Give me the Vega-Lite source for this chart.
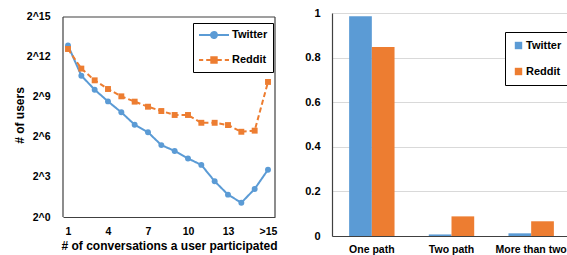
{
  "$schema": "https://vega.github.io/schema/vega-lite/v6.json",
  "padding": {"left": 13, "top": 7, "right": 0, "bottom": 0},
  "spacing": 26,
  "config": {
    "font": "Liberation Sans",
    "view": {"stroke": null},
    "axis": {
      "labelFont": "Liberation Sans", "labelFontWeight": "bold", "labelColor": "#000",
      "titleFont": "Liberation Sans", "titleFontWeight": "bold", "titleColor": "#000", "titleFontSize": 12,
      "gridColor": "#d9d9d9", "gridWidth": 1, "domainColor": "#404040", "domainWidth": 1.2, "ticks": false
    },
    "legend": {"labelFont": "Liberation Sans", "labelFontWeight": "bold", "labelColor": "#000"}
  },
  "resolve": {"scale": {"color": "independent"}, "legend": {"color": "independent"}},
  "hconcat": [
    {
      "width": 212,
      "height": 204,
      "data": {"values": [
        {"n": 1, "platform": "Twitter", "users": 7480},
        {"n": 2, "platform": "Twitter", "users": 1552},
        {"n": 3, "platform": "Twitter", "users": 749},
        {"n": 4, "platform": "Twitter", "users": 407},
        {"n": 5, "platform": "Twitter", "users": 231},
        {"n": 6, "platform": "Twitter", "users": 121},
        {"n": 7, "platform": "Twitter", "users": 82},
        {"n": 8, "platform": "Twitter", "users": 42},
        {"n": 9, "platform": "Twitter", "users": 31},
        {"n": 10, "platform": "Twitter", "users": 21},
        {"n": 11, "platform": "Twitter", "users": 15},
        {"n": 12, "platform": "Twitter", "users": 6.4},
        {"n": 13, "platform": "Twitter", "users": 3.2},
        {"n": 14, "platform": "Twitter", "users": 2.1},
        {"n": 15, "platform": "Twitter", "users": 4.3},
        {"n": 16, "platform": "Twitter", "users": 11.7},
        {"n": 1, "platform": "Reddit", "users": 6208},
        {"n": 2, "platform": "Reddit", "users": 2241},
        {"n": 3, "platform": "Reddit", "users": 1218},
        {"n": 4, "platform": "Reddit", "users": 776},
        {"n": 5, "platform": "Reddit", "users": 530},
        {"n": 6, "platform": "Reddit", "users": 402},
        {"n": 7, "platform": "Reddit", "users": 309},
        {"n": 8, "platform": "Reddit", "users": 247},
        {"n": 9, "platform": "Reddit", "users": 201},
        {"n": 10, "platform": "Reddit", "users": 201},
        {"n": 11, "platform": "Reddit", "users": 134},
        {"n": 12, "platform": "Reddit", "users": 134},
        {"n": 13, "platform": "Reddit", "users": 119},
        {"n": 14, "platform": "Reddit", "users": 84},
        {"n": 15, "platform": "Reddit", "users": 89},
        {"n": 16, "platform": "Reddit", "users": 1120}
      ]},
      "layer": [
        {
          "data": {"values": [{}]},
          "mark": {"type": "rule", "color": "#404040", "strokeWidth": 1.2},
          "encoding": {
            "x": {"datum": 0.625, "type": "quantitative", "scale": {"domain": [0.625, 16.525], "nice": false, "zero": false}},
            "y": {"datum": 1, "type": "quantitative"},
            "y2": {"datum": 32768}
          }
        },
        {
          "data": {"values": [{}]},
          "mark": {"type": "rule", "color": "#404040", "strokeWidth": 1.2},
          "encoding": {
            "x": {"datum": 16.525, "type": "quantitative"},
            "y": {"datum": 1, "type": "quantitative"},
            "y2": {"datum": 32768}
          }
        },
        {
          "data": {"values": [{}]},
          "mark": {"type": "rule", "color": "#404040", "strokeWidth": 1.2},
          "encoding": {
            "x": {"datum": 0.625, "type": "quantitative"},
            "x2": {"datum": 16.525},
            "y": {"datum": 32768, "type": "quantitative"}
          }
        },
        {
          "mark": {"type": "line", "strokeWidth": 2},
          "encoding": {
            "x": {"field": "n", "type": "quantitative",
              "scale": {"domain": [0.625, 16.525], "nice": false, "zero": false},
              "axis": {"values": [1, 4, 7, 10, 13, 16], "labelExpr": "datum.value == 16 ? '>15' : datum.value", "grid": false,
                "labelFontSize": 10.5, "labelPadding": 9, "title": "# of conversations a user participated", "titlePadding": 4}},
            "y": {"field": "users", "type": "quantitative",
              "scale": {"type": "log", "base": 2, "domain": [1, 40342], "nice": false},
              "axis": {"values": [1, 8, 64, 512, 4096, 32768], "labelExpr": "'2^' + round(log(datum.value) / log(2))", "domain": false,
                "labelFontSize": 10.5, "labelPadding": 13, "title": "# of users", "titlePadding": 0}},
            "color": {"field": "platform", "type": "nominal",
              "scale": {"domain": ["Twitter", "Reddit"], "range": ["#5B9BD5", "#ED7D31"]},
              "legend": {
                "title": null, "orient": "none", "legendX": 130, "legendY": 10,
                "strokeColor": "#000", "fillColor": "#fff", "padding": 5, "rowPadding": 11,
                "labelFontSize": 11, "symbolSize": 144, "symbolOffset": 9, "labelOffset": 11,
                "encode": {"symbols": {"update": {
                  "shape": {"signal": "datum.value === 'Twitter' ? 'M-2.5,0H2.5M0.5,0A0.5,0.5,0,1,1,-0.5,0A0.5,0.5,0,1,1,0.5,0Z' : 'M-2.5,0H-1.8M-1.3,0H-0.6M0.6,0H1.3M1.8,0H2.5M-0.45,-0.45H0.45V0.45H-0.45Z'"},
                  "fill": {"signal": "datum.value === 'Twitter' ? '#5B9BD5' : '#ED7D31'"},
                  "stroke": {"signal": "datum.value === 'Twitter' ? '#5B9BD5' : '#ED7D31'"},
                  "strokeWidth": {"value": 2},
                  "strokeDash": {"value": [1, 0]},
                  "opacity": {"value": 1}
                }}}
              }},
            "strokeDash": {"field": "platform", "type": "nominal",
              "scale": {"domain": ["Twitter", "Reddit"], "range": [[1, 0], [5, 3]]}, "legend": null}
          }
        },
        {
          "mark": {"type": "point", "filled": true, "opacity": 1, "size": 35},
          "encoding": {
            "x": {"field": "n", "type": "quantitative"},
            "y": {"field": "users", "type": "quantitative"},
            "color": {"field": "platform", "type": "nominal"},
            "shape": {"field": "platform", "type": "nominal",
              "scale": {"domain": ["Twitter", "Reddit"], "range": ["circle", "square"]}, "legend": null}
          }
        }
      ]
    },
    {
      "width": 239,
      "height": 223,
      "data": {"values": [
        {"category": "One path", "platform": "Twitter", "share": 0.985},
        {"category": "One path", "platform": "Reddit", "share": 0.848},
        {"category": "Two path", "platform": "Twitter", "share": 0.007},
        {"category": "Two path", "platform": "Reddit", "share": 0.088},
        {"category": "More than two", "platform": "Twitter", "share": 0.012},
        {"category": "More than two", "platform": "Reddit", "share": 0.066}
      ]},
      "mark": {"type": "bar"},
      "encoding": {
        "x": {"field": "category", "type": "nominal", "sort": ["One path", "Two path", "More than two"],
          "scale": {"paddingInner": 0.43, "paddingOuter": 0.215},
          "axis": {"title": null, "labelAngle": 0, "labelFontSize": 10.5, "labelPadding": 8}},
        "xOffset": {"field": "platform", "type": "nominal", "sort": ["Twitter", "Reddit"],
          "scale": {"paddingInner": 0, "paddingOuter": 0}},
        "y": {"field": "share", "type": "quantitative",
          "scale": {"domain": [0, 1], "nice": false},
          "axis": {"title": null, "values": [0, 0.2, 0.4, 0.6, 0.8, 1], "format": "~g", "labelFontSize": 11, "labelPadding": 12}},
        "color": {"field": "platform", "type": "nominal",
          "scale": {"domain": ["Twitter", "Reddit"], "range": ["#5B9BD5", "#ED7D31"]},
          "legend": {
            "title": null, "orient": "none", "legendX": 173, "legendY": 19,
            "strokeColor": "#000", "fillColor": "#fff", "padding": 8, "rowPadding": 14,
            "labelFontSize": 11, "labelOffset": 2, "symbolType": "square", "symbolSize": 55,
            "symbolStrokeWidth": 0, "symbolOpacity": 1
          }}
      }
    }
  ]
}
